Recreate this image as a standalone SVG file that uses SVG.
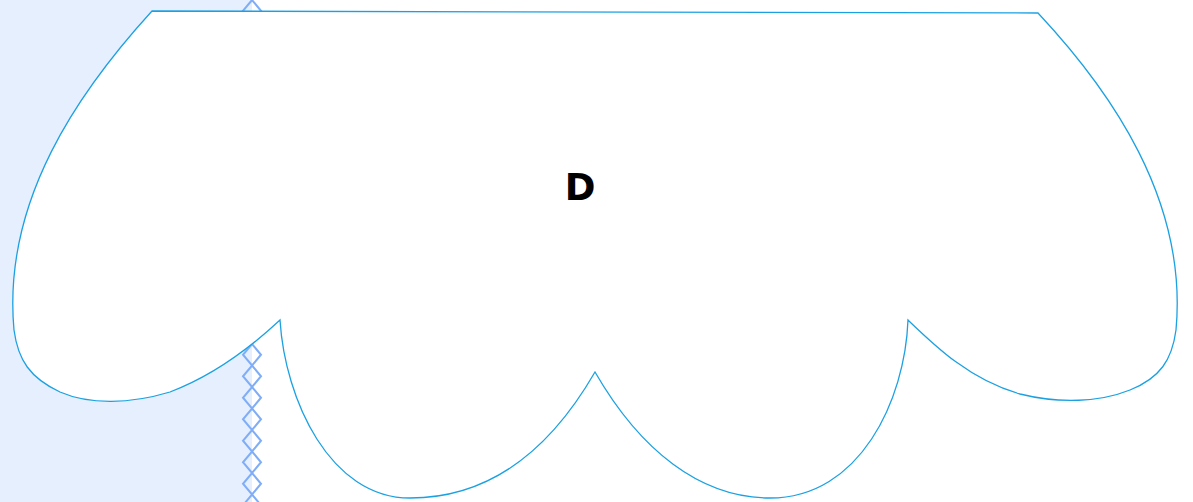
<svg xmlns="http://www.w3.org/2000/svg" width="1193" height="502" viewBox="0 0 1193 502">
  <style>
    .lane { fill: #e6effd; }
    .chain { fill: none; stroke: #7fadf7; stroke-width: 2; }
    .cloud { fill: #ffffff; stroke: #1ba1e2; stroke-width: 1.3; }
    .label { font-family: "DejaVu Sans", "Liberation Sans", sans-serif; font-weight: bold; font-size: 37px; fill: #000000; }
  </style>
  <g id="background">
    <rect class="lane" x="0" y="0" width="252" height="502"/>
  </g>
  <g id="connectors">
    <path class="chain" d="M252,0 l9,10.75 -9,10.75 -9,-10.75 z m0,21.5 l9,10.75 -9,10.75 -9,-10.75 z m0,21.5 l9,10.75 -9,10.75 -9,-10.75 z m0,21.5 l9,10.75 -9,10.75 -9,-10.75 z m0,21.5 l9,10.75 -9,10.75 -9,-10.75 z m0,21.5 l9,10.75 -9,10.75 -9,-10.75 z m0,21.5 l9,10.75 -9,10.75 -9,-10.75 z m0,21.5 l9,10.75 -9,10.75 -9,-10.75 z m0,21.5 l9,10.75 -9,10.75 -9,-10.75 z m0,21.5 l9,10.75 -9,10.75 -9,-10.75 z m0,21.5 l9,10.75 -9,10.75 -9,-10.75 z m0,21.5 l9,10.75 -9,10.75 -9,-10.75 z m0,21.5 l9,10.75 -9,10.75 -9,-10.75 z m0,21.5 l9,10.75 -9,10.75 -9,-10.75 z m0,21.5 l9,10.75 -9,10.75 -9,-10.75 z m0,21.5 l9,10.75 -9,10.75 -9,-10.75 z m0,21.5 l9,10.75 -9,10.75 -9,-10.75 z m0,21.5 l9,10.75 -9,10.75 -9,-10.75 z m0,21.5 l9,10.75 -9,10.75 -9,-10.75 z m0,21.5 l9,10.75 -9,10.75 -9,-10.75 z m0,21.5 l9,10.75 -9,10.75 -9,-10.75 z m0,21.5 l9,10.75 -9,10.75 -9,-10.75 z m0,21.5 l9,10.75 -9,10.75 -9,-10.75 z m0,21.5 l9,10.75 -9,10.75 -9,-10.75 z"/>
  </g>
  <g id="node-D">
    <path class="cloud" d="M152,11 L1038,13 C1110,90 1188,200 1176,330 C1172,360 1160,378 1130,390 C1100,402 1060,404 1020,394 C970,380 935,346 908,320 C905,400 860,498 770,498 C700,498 640,450 595,372 C550,450 490,498 410,498 C330,498 285,400 280,320 C250,348 215,375 170,392 C130,404 90,405 60,392 C30,378 18,360 14,330 C2,200 80,90 152,11 Z"/>
    <text class="label" x="580" y="200" text-anchor="middle">D</text>
  </g>
</svg>
